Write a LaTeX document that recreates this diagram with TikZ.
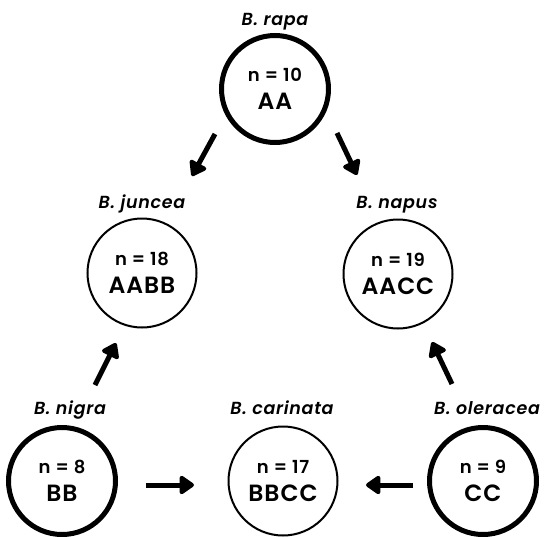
\documentclass[tikz,border=0pt]{standalone}
\usepackage{fontspec}
\setmainfont{Poppins}[LetterSpace=4,BoldFont={Poppins SemiBold},BoldItalicFont={Poppins SemiBold Italic}]
\usetikzlibrary{arrows.meta,positioning}
\newcommand\ploidy[2]{{\fontsize{18}{19}\selectfont n = #1}\\[10pt]{\fontsize{23.5}{24}\selectfont #2}}

\begin{document}
\begin{tikzpicture}[x=1pt,y=-1pt,
  wild/.style={circle,draw,line width=5pt,minimum size=107pt,inner sep=0pt,align=center,font=\bfseries},
  hybrid/.style={circle,draw,line width=2pt,minimum size=109pt,inner sep=0pt,align=center,font=\bfseries},
  spname/.style={anchor=base,inner sep=0pt,font=\fontsize{17.5}{17}\selectfont\bfseries\itshape},
  cross/.style={line width=5pt,-{Triangle[length=16pt,width=21pt,round]}}]
\useasboundingbox (0,0) rectangle (544,536);
% diploids
\node[wild] (rapa) at (275,89) {\ploidy{10}{AA}};
\node[wild] (nigra) at (62,481) {\ploidy{8}{BB}};
\node[wild] (oleracea) at (483,481) {\ploidy{9}{CC}};
% amphidiploids
\node[hybrid] (juncea) at (142,273) {\ploidy{18}{AABB}};
\node[hybrid] (napus) at (398,274) {\ploidy{19}{AACC}};
\node[hybrid] (carinata) at (283,481) {\ploidy{17}{BBCC}};
% species names
\node[spname] (lrapa) at (275,25) {B. rapa};
\node[spname] (ljuncea) at (142,208) {B. juncea};
\node[spname] (lnapus) at (397,208) {B. napus};
\node[spname] (lnigra) at (70,414) {B. nigra};
\node[spname] (lcarinata) at (282,414) {B. carinata};
\node[spname] (loleracea) at (487,414) {B. oleracea};
% crosses
\draw[cross] ([shift={(-60,45)}]rapa.center) -- ([shift={(50,-97)}]juncea.center);
\draw[cross] ([shift={(62,44)}]rapa.center) -- ([shift={(-41,-99)}]napus.center);
\draw[cross] ([shift={(33,-96)}]nigra.center) -- ([shift={(-26,70)}]juncea.center);
\draw[cross] ([shift={(-31,-97)}]oleracea.center) -- ([shift={(34,68)}]napus.center);
\draw[cross] ([shift={(84,4)}]nigra.center) -- ([shift={(-89,4)}]carinata.center);
\draw[cross] ([shift={(-70,4)}]oleracea.center) -- ([shift={(83,4)}]carinata.center);
\end{tikzpicture}
\end{document}
